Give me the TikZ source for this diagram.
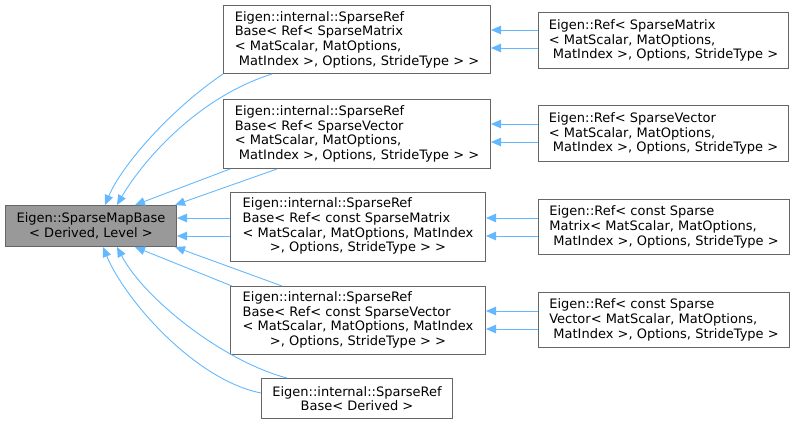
\documentclass[tikz,border=0pt]{standalone}
\usepackage{fontspec}
\setmainfont{DejaVu Sans}
\usetikzlibrary{arrows.meta}
\definecolor{edgeblue}{HTML}{63B8FF}
\definecolor{boxgray}{HTML}{666666}
\definecolor{basefill}{HTML}{999999}

% left-aligned lines with a centred last line
\newcommand{\leftlinesc}[4]{%
  \begin{tabular}{@{}l@{}}#1\\#2\\#3\\\multicolumn{1}{@{}c@{}}{#4}\end{tabular}}

\begin{document}
\begin{tikzpicture}[x=1pt,y=-1pt,
  cls/.style={draw=boxgray, fill=white, line width=1pt, anchor=north west,
    inner xsep=0pt, inner ysep=0pt, align=left,
    font=\fontsize{13}{14.7}\selectfont},
  ctr/.style={cls, align=center},
  inh/.style={draw=edgeblue, line width=0.9pt,
    -{Triangle[length=10pt,width=8.5pt]}}]

\useasboundingbox (0,0) rectangle (795,424);

% base class
\node[ctr, fill=basefill, minimum width=171pt, minimum height=41pt]
  (base) at (5,205) {Eigen::SparseMapBase\\< Derived, Level >};

% intermediate bases
\node[cls, minimum width=267pt, minimum height=68pt]
  (A) at (223,5) {Eigen::internal::SparseRef\\Base< Ref< SparseMatrix\\< MatScalar, MatOptions,\\\ MatIndex >, Options, StrideType > >};
\node[cls, minimum width=267pt, minimum height=69pt]
  (B) at (223,99) {Eigen::internal::SparseRef\\Base< Ref< SparseVector\\< MatScalar, MatOptions,\\\ MatIndex >, Options, StrideType > >};
\node[cls, minimum width=255pt, minimum height=69pt]
  (C) at (230,192) {\leftlinesc{Eigen::internal::SparseRef}{Base< Ref< const SparseMatrix}{< MatScalar, MatOptions, MatIndex}{>, Options, StrideType > >}};
\node[cls, minimum width=255pt, minimum height=68pt]
  (D) at (230,286) {\leftlinesc{Eigen::internal::SparseRef}{Base< Ref< const SparseVector}{< MatScalar, MatOptions, MatIndex}{>, Options, StrideType > >}};
\node[ctr, minimum width=191pt, minimum height=40pt]
  (E) at (261,378) {Eigen::internal::SparseRef\\Base< Derived >};

% derived Ref classes
\node[cls, minimum width=250pt, minimum height=56pt]
  (Ap) at (538,12) {Eigen::Ref< SparseMatrix\\< MatScalar, MatOptions,\\\ MatIndex >, Options, StrideType >};
\node[cls, minimum width=250pt, minimum height=56pt]
  (Bp) at (538,105) {Eigen::Ref< SparseVector\\< MatScalar, MatOptions,\\\ MatIndex >, Options, StrideType >};
\node[cls, minimum width=251pt, minimum height=55pt]
  (Cp) at (538,199) {Eigen::Ref< const Sparse\\Matrix< MatScalar, MatOptions,\\\ MatIndex >, Options, StrideType >};
\node[cls, minimum width=251pt, minimum height=55pt]
  (Dp) at (538,292) {Eigen::Ref< const Sparse\\Vector< MatScalar, MatOptions,\\\ MatIndex >, Options, StrideType >};

% Ref -> SparseRefBase
\draw[inh] ([yshift=-18pt]Ap.north west) coordinate (t) -- (t -| A.east);
\draw[inh] ([yshift=-36pt]Ap.north west) coordinate (t) -- (t -| A.east);
\draw[inh] ([yshift=-19pt]Bp.north west) coordinate (t) -- (t -| B.east);
\draw[inh] ([yshift=-37pt]Bp.north west) coordinate (t) -- (t -| B.east);
\draw[inh] ([yshift=-19pt]Cp.north west) coordinate (t) -- (t -| C.east);
\draw[inh] ([yshift=-37pt]Cp.north west) coordinate (t) -- (t -| C.east);
\draw[inh] ([yshift=-19pt]Dp.north west) coordinate (t) -- (t -| D.east);
\draw[inh] ([yshift=-37pt]Dp.north west) coordinate (t) -- (t -| D.east);

% SparseRefBase -> SparseMapBase
\draw[inh] (A.south west) .. controls (170,110) and (122,165) .. ([xshift=100pt]base.north west);
\draw[inh] ([xshift=49pt]A.south west) .. controls (195,98) and (140,165) .. ([xshift=112pt]base.north west);
\draw[inh] ([xshift=7pt]B.south west) -- ([xshift=130pt]base.north west);
\draw[inh] ([xshift=54pt]B.south west) -- ([xshift=-2pt]base.north east);
\draw[inh] ([yshift=-26pt]C.north west) coordinate (t) -- (t -| base.east);
\draw[inh] ([yshift=-44pt]C.north west) coordinate (t) -- (t -| base.east);
\draw[inh] ([xshift=2pt]D.north west) -- ([xshift=130pt]base.south west);
\draw[inh] ([xshift=52pt]D.north west) -- ([xshift=-2pt]base.south east);
\draw[inh] ([yshift=-15pt]E.north west) .. controls (195,380) and (125,300) .. ([xshift=98pt]base.south west);
\draw[inh] ([xshift=26pt]E.north west) .. controls (225,362) and (145,300) .. ([xshift=112pt]base.south west);

\end{tikzpicture}
\end{document}
